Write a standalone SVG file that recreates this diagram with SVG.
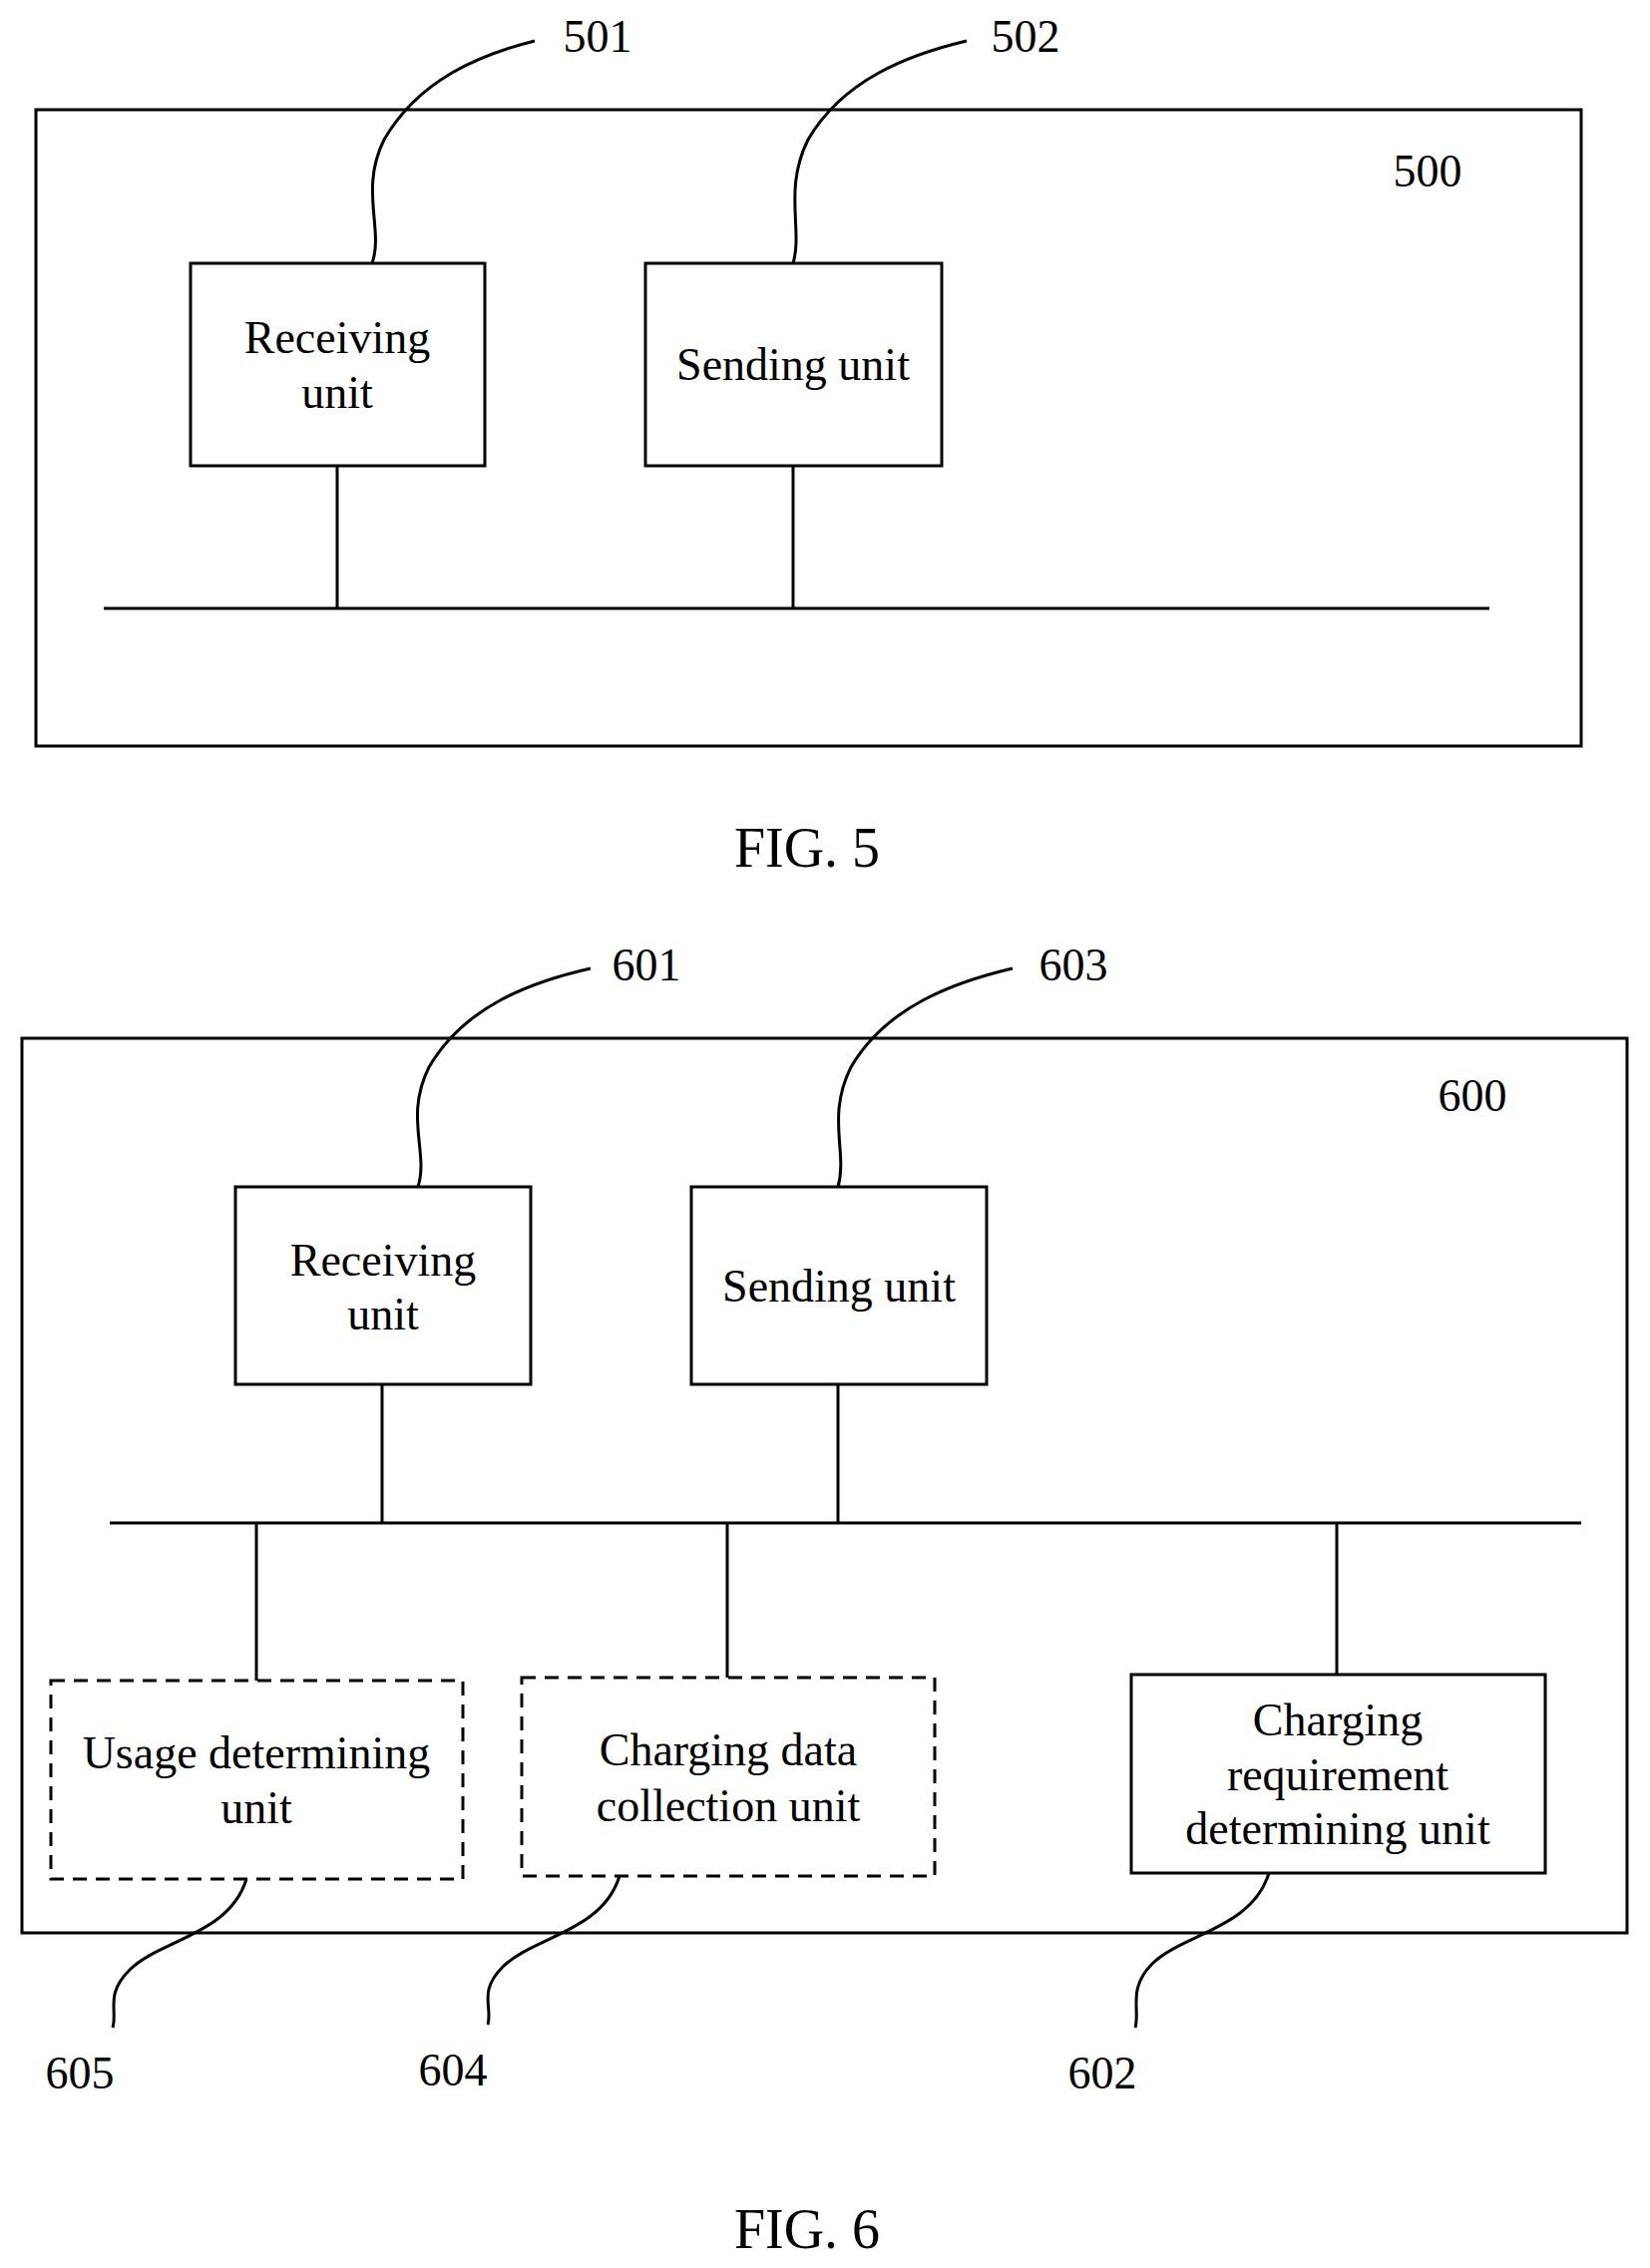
<svg xmlns="http://www.w3.org/2000/svg" width="1654" height="2274" viewBox="0 0 1654 2274">
<style>
rect{fill:#fff;stroke:#000;stroke-width:3}
.d{stroke-dasharray:14 9}
line,path{stroke:#000;stroke-width:3;fill:none}
text{font-family:"Liberation Serif",serif;font-size:46px;fill:#000;text-anchor:middle;dominant-baseline:central}
.f{font-size:56px}
</style>
<rect width="1654" height="2274" style="stroke:none"/>
<g id="fig5">
<rect x="36" y="110" width="1549" height="638"/>
<text x="1431" y="171">500</text>
</g>
<g id="n501"><rect x="191" y="264" width="295" height="203"/><text x="338" y="338">Receiving</text><text x="338" y="393">unit</text><text x="599" y="36">501</text></g>
<g id="n502"><rect x="647" y="264" width="297" height="203"/><text x="795" y="365">Sending unit</text><text x="1028" y="36">502</text></g>
<text class="f" x="809" y="850">FIG. 5</text>
<g id="fig6"><rect x="22" y="1041" width="1609" height="897"/><text x="1476" y="1098">600</text></g>
<g id="n601"><rect x="236" y="1190" width="296" height="198"/><text x="384" y="1263">Receiving</text><text x="384" y="1317">unit</text><text x="648" y="967">601</text></g>
<g id="n603"><rect x="693" y="1190" width="296" height="198"/><text x="841" y="1289">Sending unit</text><text x="1076" y="967">603</text></g>
<g id="n605"><rect class="d" x="51" y="1685" width="413" height="199"/><text x="257" y="1757">Usage determining</text><text x="257" y="1812">unit</text><text x="80" y="2078">605</text></g>
<g id="n604"><rect class="d" x="523" y="1682" width="414" height="199"/><text x="730" y="1754">Charging data</text><text x="730" y="1810">collection unit</text><text x="454" y="2075">604</text></g>
<g id="n602"><rect x="1134" y="1679" width="415" height="199"/><text x="1341" y="1724">Charging</text><text x="1341" y="1779">requirement</text><text x="1341" y="1833">determining unit</text><text x="1105" y="2078">602</text></g>
<text class="f" x="809" y="2235">FIG. 6</text>
<g id="connectors">
<line x1="104" y1="610" x2="1493" y2="610"/>
<line x1="338" y1="467" x2="338" y2="610"/>
<line x1="795" y1="467" x2="795" y2="610"/>
<path d="M373 264 C385 230 360 190 385 140 C420 80 480 55 536 41"/>
<path d="M795 264 C805 230 785 190 810 140 C845 80 910 55 969 41"/>
<line x1="110" y1="1527" x2="1585" y2="1527"/>
<line x1="383" y1="1388" x2="383" y2="1527"/>
<line x1="840" y1="1388" x2="840" y2="1527"/>
<line x1="257" y1="1527" x2="257" y2="1685"/>
<line x1="729" y1="1527" x2="729" y2="1682"/>
<line x1="1340" y1="1527" x2="1340" y2="1679"/>
<path d="M419 1190 C430 1155 405 1120 430 1070 C465 1010 530 985 592 971"/>
<path d="M840 1190 C850 1155 828 1120 853 1070 C888 1010 955 985 1015 971"/>
<path d="M247 1884 C230 1940 160 1945 130 1975 C105 2000 118 2015 113 2033"/>
<path d="M621 1881 C604 1937 534 1942 504 1972 C479 1997 494 2012 489 2030"/>
<path d="M1272 1878 C1255 1934 1185 1939 1155 1969 C1130 1994 1143 2015 1138 2033"/>
</g>
</svg>
